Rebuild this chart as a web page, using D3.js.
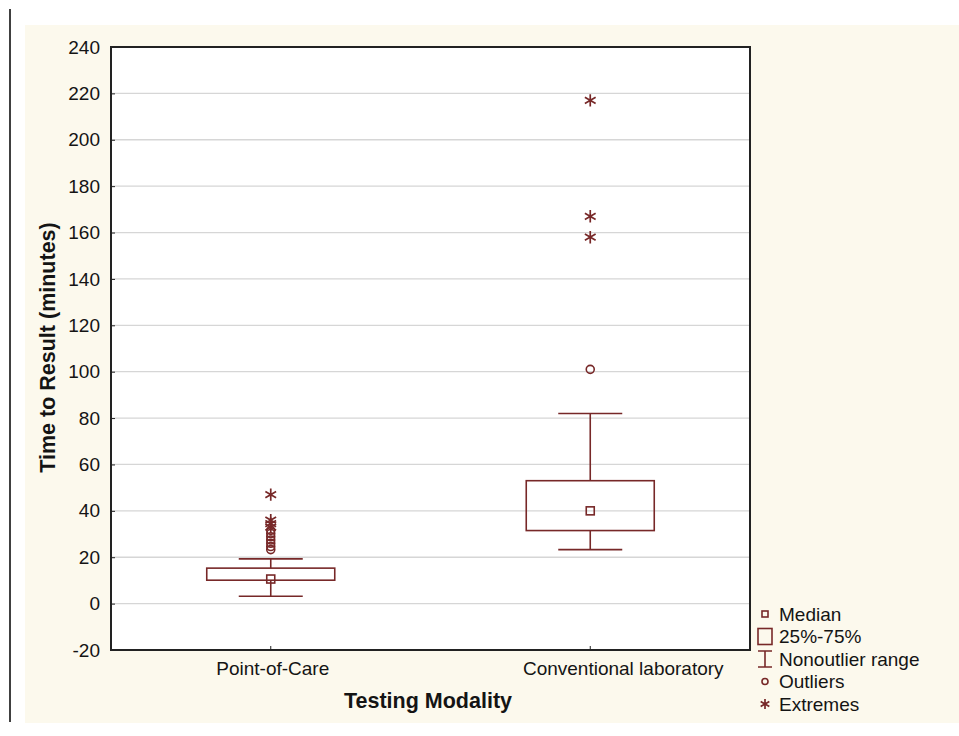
<html>
<head>
<meta charset="utf-8">
<script src="https://d3js.org/d3.v7.min.js"></script>
<style>
    body { margin: 0; background: #fff; }
    text { font-family: Arial, "Liberation Sans", sans-serif; fill: #141414; }
    .grid line { stroke: #d6d6d6; stroke-width: 1.3px; }
    .axis path { display: none; }
    .axis line { stroke: #222; }
    .axis text { font-size: 19px; }
    .frame { fill: none; stroke: #222; stroke-width: 2px; }
    .mark { stroke: #772828; stroke-width: 1.6px; fill: none; }
</style>
</head>
<body>
<svg id="chart" width="959" height="736"></svg>
<script>
    // data
    const categories = ['Point-of-Care', 'Conventional laboratory'];
    const medians = [10.6, 40];
    const q1 = [10.1, 31.5];
    const q3 = [15.3, 53];
    const whiskerLow = [3.2, 23.3];
    const whiskerHigh = [19.3, 82];
    const outliers = [[23.3, 24.6, 26, 27.4, 28.8, 30.2, 31.6], [101]];
    const extremes = [[33, 34.5, 36, 47], [158, 167, 217]];
    const yTicks = d3.range(-20, 241, 20);
    const legendLabels = ['Median', '25%-75%', 'Nonoutlier range', 'Outliers', 'Extremes'];

    const red = '#772828';
    const svg = d3.select('#chart');

    // page decorations
    svg.append('line')
        .attr('x1', 10).attr('x2', 10).attr('y1', 9).attr('y2', 722)
        .attr('stroke', '#000').attr('stroke-width', 1.5);
    svg.append('rect')
        .attr('x', 25).attr('y', 25).attr('width', 934).attr('height', 698)
        .attr('fill', '#fcf9ed');

    const margin = { left: 111, top: 47, right: 750, bottom: 650 };
    const plotW = margin.right - margin.left;
    const plotH = margin.bottom - margin.top;

    const plot = svg.append('g').attr('transform', `translate(${margin.left}, ${margin.top})`);

    const x = d3.scaleBand().domain(categories).range([0, plotW]).paddingInner(0).paddingOuter(0);
    const y = d3.scaleLinear().domain([-20, 240]).range([plotH, 0]);

    plot.append('rect').attr('width', plotW).attr('height', plotH).attr('fill', '#fff');

    // gridlines
    plot.append('g').attr('class', 'grid')
        .selectAll('line')
        .data(yTicks.filter(d => d > -20 && d < 240))
        .join('line')
        .attr('x1', 0).attr('x2', plotW)
        .attr('y1', d => y(d)).attr('y2', d => y(d));

    // axes
    plot.append('g').attr('class', 'axis')
        .call(d3.axisLeft(y).tickValues(yTicks).tickFormat(d => String(d)).tickSize(-4).tickPadding(11));

    const xAxis = plot.append('g').attr('class', 'axis')
        .attr('transform', `translate(0, ${plotH})`)
        .call(d3.axisBottom(x).tickSize(-4).tickPadding(12));
    // the long label sits off-centre to the right in the original
    xAxis.selectAll('.tick text').attr('dx', (d, i) => i === 1 ? 33 : 2);

    plot.append('rect').attr('class', 'frame').attr('width', plotW).attr('height', plotH);

    const boxW = 128, capW = 64, medS = 8;

    function asterisk(g, cx, cy, r) {
        const p = d3.path();
        for (let i = 0; i < 3; i++) {
            const a = Math.PI / 2 + i * Math.PI / 3;
            p.moveTo(cx + r * Math.cos(a), cy + r * Math.sin(a));
            p.lineTo(cx - r * Math.cos(a), cy - r * Math.sin(a));
        }
        g.append('path').attr('d', p.toString())
            .attr('stroke', red).attr('stroke-width', 1.7).attr('fill', 'none');
    }

    categories.forEach((c, i) => {
        const cx = x(c) + x.bandwidth() / 2;
        const g = plot.append('g');

        // whiskers
        g.append('line').attr('class', 'mark')
            .attr('x1', cx).attr('x2', cx).attr('y1', y(whiskerHigh[i])).attr('y2', y(q3[i]));
        g.append('line').attr('class', 'mark')
            .attr('x1', cx).attr('x2', cx).attr('y1', y(q1[i])).attr('y2', y(whiskerLow[i]));
        [whiskerHigh[i], whiskerLow[i]].forEach(v => {
            g.append('line').attr('class', 'mark')
                .attr('x1', cx - capW / 2).attr('x2', cx + capW / 2)
                .attr('y1', y(v)).attr('y2', y(v));
        });

        // box
        g.append('rect').attr('class', 'mark')
            .attr('fill', '#fff')
            .attr('x', cx - boxW / 2).attr('y', y(q3[i]))
            .attr('width', boxW).attr('height', y(q1[i]) - y(q3[i]));

        // median
        g.append('rect').attr('class', 'mark')
            .attr('x', cx - medS / 2).attr('y', y(medians[i]) - medS / 2)
            .attr('width', medS).attr('height', medS);

        // outliers
        g.selectAll('circle')
            .data(outliers[i])
            .join('circle')
            .attr('class', 'mark')
            .attr('stroke-width', 2)
            .attr('cx', cx).attr('cy', d => y(d)).attr('r', 4);

        extremes[i].forEach(v => asterisk(g, cx, y(v), 6.2));
    });

    // axis titles
    svg.append('text')
        .attr('transform', `translate(55, ${(margin.top + margin.bottom) / 2 - 1}) rotate(-90)`)
        .attr('text-anchor', 'middle')
        .style('font-size', '21.5px').style('font-weight', 'bold')
        .text('Time to Result (minutes)');

    svg.append('text')
        .attr('x', 428).attr('y', 708)
        .attr('text-anchor', 'middle')
        .style('font-size', '21.5px').style('font-weight', 'bold')
        .text('Testing Modality');

    // legend
    const legend = svg.append('g').attr('transform', 'translate(765, 614)');
    const rowH = 22.5;
    legendLabels.forEach((label, i) => {
        const row = legend.append('g').attr('transform', `translate(0, ${i * rowH})`);
        row.append('text').attr('x', 14).attr('y', 0).attr('dy', '0.35em')
            .style('font-size', '19px').text(label);
        if (i === 0) {
            row.append('rect').attr('class', 'mark').attr('x', -3).attr('y', -3).attr('width', 6).attr('height', 6);
        } else if (i === 1) {
            row.append('rect').attr('class', 'mark').attr('x', -7).attr('y', -8).attr('width', 14).attr('height', 16);
        } else if (i === 2) {
            row.append('path').attr('class', 'mark').attr('d', 'M-7,-8H7M0,-8V8M-7,8H7');
        } else if (i === 3) {
            row.append('circle').attr('class', 'mark').attr('stroke-width', 2).attr('r', 3);
        } else {
            asterisk(row, 0, 0, 5);
        }
    });
</script>
</body>
</html>
